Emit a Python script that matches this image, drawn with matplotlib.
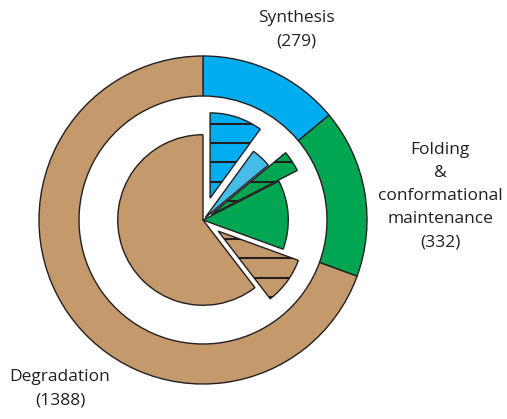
import numpy as np
import matplotlib
matplotlib.use("Agg")
from matplotlib import pyplot as plt
from matplotlib.patches import Wedge

# outer ring
groups = ["Synthesis", "Folding\n&\nconformational\nmaintenance", "Degradation"]
group_counts = [279, 332, 1388]
group_colors = ["#00aeef", "#00a651", "#c49a6c"]

# inner split of each group (clockwise from top)
sub_counts = [200, 79, 70, 262, 180, 1208]
sub_colors = ["#00aeef", "#45bde8", "#00a651", "#00a651", "#c49a6c", "#c49a6c"]
sub_hatched = [True, False, True, False, True, False]
sub_radius = [0.52, 0.50, 0.59, 0.52, 0.52, 0.52]
sub_explode = [0.14, 0.02, 0.06, 0.0, 0.115, 0.0]

edge = "#231f20"
W, H = 507, 419
cx, cy, R = 203, 220, 164  # pixel centre and outer radius

fig = plt.figure(figsize=(W / 100, H / 100), dpi=100)
ax = fig.add_axes([0, 0, 1, 1])

ax.pie(group_counts, colors=group_colors, startangle=90, counterclock=False,
       radius=1.0, wedgeprops=dict(width=40 / R, edgecolor=edge, linewidth=1.0))

total = sum(sub_counts)
start = 90.0
hatch_step = 19.2 / R
for n, r, c, h, ex in zip(sub_counts, sub_radius, sub_colors, sub_hatched, sub_explode):
    end = start - n / total * 360.0
    mid = np.deg2rad((start + end) / 2)
    ctr = (ex * np.cos(mid), ex * np.sin(mid))
    w = Wedge(ctr, r, end, start, facecolor=c, edgecolor="none", zorder=3)
    ax.add_patch(w)
    if h:
        for k in range(-10, 11):
            ln = ax.axhline(k * hatch_step, color=edge, lw=1.5, zorder=4)
            ln.set_clip_path(w)
    ax.add_patch(Wedge(ctr, r, end, start, facecolor="none", edgecolor=edge,
                       linewidth=1.0, zorder=5))
    start = end

ax.set_xlim(-cx / R, (W - cx) / R)
ax.set_ylim(-(H - cy) / R, cy / R)
ax.set_aspect("auto")
ax.axis("off")

font = dict(family="Open Sans", fontsize=12.5, color=edge, ha="center",
            va="center", linespacing=1.6)
ax.text((296 - cx) / R, (cy - 30) / R, f"{groups[0]}\n({group_counts[0]})", **font)
ax.text((440 - cx) / R, (cy - 196) / R, f"{groups[1]}\n({group_counts[1]})", **font)
ax.text((60 - cx) / R, (cy - 389) / R, f"{groups[2]}\n({group_counts[2]})", **font)

fig.savefig("out.png", dpi=100)
